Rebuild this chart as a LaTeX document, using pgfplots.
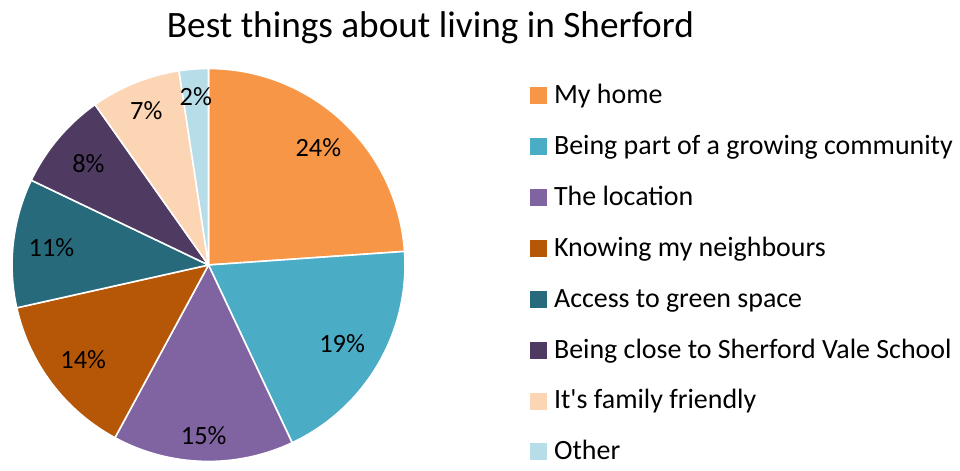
\documentclass[border=0pt]{standalone}
\usepackage{pgfplots}
\pgfplotsset{compat=1.18}
\usepackage{fontspec}
\setmainfont{Carlito}

\definecolor{cHome}{HTML}{F79646}
\definecolor{cGrow}{HTML}{4BACC6}
\definecolor{cLoc}{HTML}{8064A2}
\definecolor{cNeigh}{HTML}{B65708}
\definecolor{cGreen}{HTML}{276A7C}
\definecolor{cSchool}{HTML}{4F3B62}
\definecolor{cFamily}{HTML}{FCD5B5}
\definecolor{cOther}{HTML}{B7DEE8}

\begin{document}
\begin{tikzpicture}
\begin{axis}[
  x=0.02cm, y=0.02cm,
  xmin=0, xmax=960, ymin=0, ymax=463,
  hide axis, clip=false,
  /pgf/number format/assume math mode=true,
  title={Best things about living in Sherford},
  title style={at={(0.4484,0.8963)}, anchor=base, inner sep=0pt,
    font=\fontsize{21.2}{25}\selectfont},
  legend cell align=left,
  legend style={draw=none, fill=none, inner sep=0pt,
    at={(axis cs:530,377.3)}, anchor=north west,
    font=\fontsize{15.9}{18}\selectfont,
    row sep=15.46pt,
    nodes={inner sep=0pt, text height=10pt, text depth=3.5pt},
    /tikz/every odd column/.append style={column sep=4pt}},
  legend image code/.code={\fill[#1] (0pt,-3.25pt) rectangle (9.1pt,5.85pt);},
]
\addlegendimage{cHome}   \addlegendentry{My home}
\addlegendimage{cGrow}   \addlegendentry{Being part of a growing community}
\addlegendimage{cLoc}    \addlegendentry{The location}
\addlegendimage{cNeigh}  \addlegendentry{Knowing my neighbours}
\addlegendimage{cGreen}  \addlegendentry{Access to green space}
\addlegendimage{cSchool} \addlegendentry{Being close to Sherford Vale School}
\addlegendimage{cFamily} \addlegendentry{It\textquotesingle s family friendly}
\addlegendimage{cOther}  \addlegendentry{Other}

\pgfplotsextra{
  \path (axis cs:0,0) rectangle (axis cs:960,463);
  % share (%) / colour / label distance from centre (px)
  \gdef\angstart{90}
  \foreach \v/\c/\d in {23.9/cHome/161, 19.1/cGrow/155, 14.9/cLoc/171,
      13.6/cNeigh/157, 10.6/cGreen/158, 8.1/cSchool/157,
      7.4/cFamily/166.5, 2.4/cOther/168.5} {
    \pgfmathsetmacro\a{\angstart}
    \pgfmathsetmacro\b{\a-3.6*\v}
    \pgfmathsetmacro\m{(\a+\b)/2}
    \pgfmathsetmacro\rr{\d*0.02}
    \fill[\c, draw=white, line width=0.9pt, line join=round]
      (axis cs:208.5,198) -- ++(\a:3.93cm)
      arc[start angle=\a, end angle=\b, radius=3.93cm] -- cycle;
    \path (axis cs:208.5,198) ++(\m:\rr cm) node[font=\fontsize{15}{18}\selectfont]
      {\pgfmathprintnumber[fixed, precision=0]{\v}\%};
    \global\let\angstart\b
  }
}
\end{axis}
\end{tikzpicture}
\end{document}
